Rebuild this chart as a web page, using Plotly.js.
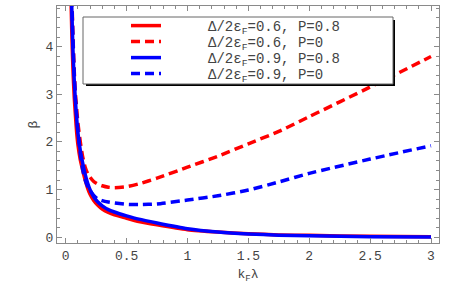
<!DOCTYPE html>
<html>
<head>
<meta charset="utf-8">
<script src="https://cdn.plot.ly/plotly-3.0.1.min.js"></script>
<style>html,body{margin:0;padding:0;background:#fff;}#chart{width:463px;height:286px;}</style>
</head>
<body>
<div id="chart"></div>
<script>
// ---- data ----
const kF = [0.04, 0.05, 0.06, 0.07, 0.08, 0.09, 0.1, 0.12, 0.14, 0.16, 0.18, 0.2, 0.23, 0.26, 0.3, 0.35, 0.4, 0.5, 0.6, 0.75, 1.0, 1.25, 1.5, 1.75, 2.0, 2.5, 3.0];
const beta_06_P08 = [5.4, 4.3, 3.5, 2.95, 2.55, 2.2, 1.95, 1.62, 1.4, 1.2, 1.03, 0.9, 0.77, 0.68, 0.59, 0.52, 0.47, 0.40, 0.33, 0.26, 0.16, 0.11, 0.075, 0.05, 0.04, 0.02, 0.01];
const beta_06_P0  = [6.5, 5.1, 4.2, 3.5, 3.0, 2.7, 2.4, 2.0, 1.68, 1.47, 1.34, 1.26, 1.17, 1.12, 1.08, 1.05, 1.04, 1.06, 1.12, 1.24, 1.47, 1.70, 1.96, 2.22, 2.53, 3.15, 3.79];
const beta_09_P08 = [6.0, 4.8, 3.9, 3.3, 2.85, 2.5, 2.2, 1.82, 1.55, 1.32, 1.14, 1.0, 0.85, 0.75, 0.66, 0.58, 0.53, 0.45, 0.38, 0.30, 0.18, 0.11, 0.07, 0.045, 0.03, 0.013, 0.005];
const beta_09_P0  = [6.2, 5.0, 4.1, 3.4, 2.9, 2.55, 2.25, 1.75, 1.42, 1.2, 1.07, 0.98, 0.88, 0.81, 0.77, 0.74, 0.72, 0.69, 0.685, 0.70, 0.78, 0.87, 0.99, 1.16, 1.34, 1.64, 1.92];
const seriesNames = [
  "Δ/2ε<sub>F</sub>=0.6, P=0.8",
  "Δ/2ε<sub>F</sub>=0.6, P=0",
  "Δ/2ε<sub>F</sub>=0.9, P=0.8",
  "Δ/2ε<sub>F</sub>=0.9, P=0"
];
const xTickVals = [0, 0.5, 1, 1.5, 2, 2.5, 3];
const xTickText = ["0", "0.5", "1", "1.5", "2", "2.5", "3"];
const yTickVals = [0, 1, 2, 3, 4];
const yTickText = ["0", "1", "2", "3", "4"];

// ---- layout constants (pixels) ----
const W = 463, H = 286;
const M = {l: 57, r: 24, t: 6, b: 43};
const PW = W - M.l - M.r, PH = H - M.t - M.b;
const px2x = p => (p - M.l) / PW;
const py2y = p => (H - M.b - p) / PH;
const mono = "'Liberation Mono', 'Courier New', monospace";
const PAD = '\u00a0\u00a0\u00a0\u00a0\u00a0';

const RED = '#ff0000', BLUE = '#0000ff';
const DASH = '9px,5px';
const LW = 3.5;

const traces = [
  {y: beta_06_P08, color: RED, dash: 'solid', legend: 'legend'},
  {y: beta_06_P0,  color: RED, dash: DASH, legend: 'legend2'},
  {y: beta_09_P08, color: BLUE, dash: 'solid', legend: 'legend3'},
  {y: beta_09_P0,  color: BLUE, dash: DASH, legend: 'legend4'}
].map((t, i) => ({
  x: kF, y: t.y, type: 'scatter', mode: 'lines', name: PAD + seriesNames[i],
  line: {color: t.color, width: LW, dash: t.dash, shape: 'spline', smoothing: 0.6},
  legend: t.legend, showlegend: true
}));
// draw order: red solid, red dashed, blue dashed, blue solid on top
const data = [traces[0], traces[1], traces[3], traces[2]];

const rowY = [26, 42, 58, 74];
function legendAt(py) {
  return {
    x: px2x(126), xref: 'paper', xanchor: 'left',
    y: py2y(py), yref: 'paper', yanchor: 'middle',
    bgcolor: 'rgba(0,0,0,0)', borderwidth: 0,
    font: {family: mono, size: 14, color: '#444'},
    itemwidth: 30
  };
}

const axisCommon = {
  showline: true, linecolor: '#8a8a8a', linewidth: 1, mirror: 'allticks',
  ticks: 'inside', ticklen: 5, tickcolor: '#8a8a8a', tickwidth: 1,
  showgrid: false, zeroline: false, automargin: false,
  tickfont: {family: mono, size: 13, color: '#444'}
};

const layout = {
  width: W, height: H,
  margin: M,
  paper_bgcolor: '#fff', plot_bgcolor: '#fff',
  xaxis: Object.assign({}, axisCommon, {
    range: [-8.7 / 121.8, 3 + 8 / 121.8],
    tickmode: 'array', tickvals: xTickVals, ticktext: xTickText,
    minor: {ticks: 'inside', dtick: 0.1, tick0: 0, ticklen: 3, tickcolor: '#8a8a8a', showgrid: false},
    title: {text: 'k<sub>F</sub>λ', font: {family: mono, size: 13, color: '#444'}, standoff: 6}
  }),
  yaxis: Object.assign({}, axisCommon, {
    range: [-0.12, 4.85],
    tickmode: 'array', tickvals: yTickVals, ticktext: yTickText,
    minor: {ticks: 'inside', dtick: 0.2, tick0: 0, ticklen: 3, tickcolor: '#8a8a8a', showgrid: false},
    title: {text: 'β', font: {family: mono, size: 13, color: '#444'}, standoff: 5}
  }),
  legend: legendAt(rowY[0]),
  legend2: legendAt(rowY[1]),
  legend3: legendAt(rowY[2]),
  legend4: legendAt(rowY[3]),
  shapes: [
    // legend box shadow
    {type: 'rect', xref: 'paper', yref: 'paper', x0: px2x(86), x1: px2x(395), y0: py2y(86), y1: py2y(20),
     fillcolor: '#000', line: {width: 0}, layer: 'above'},
    // legend box
    {type: 'rect', xref: 'paper', yref: 'paper', x0: px2x(83), x1: px2x(393), y0: py2y(84), y1: py2y(17),
     fillcolor: '#fff', line: {color: '#666', width: 1}, layer: 'above'}
  ]
};

Plotly.newPlot('chart', data, layout, {staticPlot: true, displayModeBar: false});
</script>
</body>
</html>
